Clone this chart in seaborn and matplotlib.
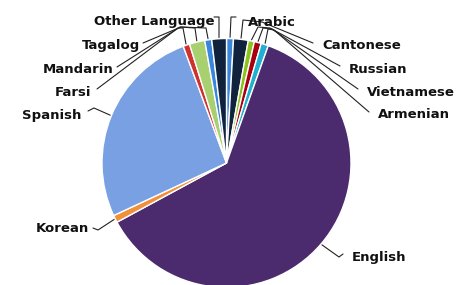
import matplotlib
matplotlib.use("Agg")
import matplotlib.pyplot as plt
import seaborn as sns
import numpy as np

# ---- data (clockwise from 12 o'clock) ----
languages = ["Arabic", "Cantonese", "Russian", "Vietnamese", "Armenian", "English",
             "Korean", "Spanish", "Farsi", "Mandarin", "Tagalog", "Other Language"]
shares = [0.9, 1.9, 0.8, 0.9, 0.95, 61.7, 0.95, 26.3, 0.85, 2.0, 0.9, 1.9]
colors = ["#3a86dc", "#10223c", "#8cc21e", "#a8000e", "#22b0d2", "#4b2a6e",
          "#f0903a", "#78a0e2", "#d0302e", "#a8d070", "#3a86dc", "#10223c"]

sns.set_theme(style="white")
plt.rcParams['font.family'] = ['DejaVu Sans']

W, H = 467, 285
CX, CY, R = 226.5, 163.0, 124.5

fig = plt.figure(figsize=(W / 100, H / 100), dpi=100)
ax = fig.add_axes([0, 0, 1, 1])

wedges, _ = ax.pie(shares, colors=colors, startangle=90, counterclock=False,
                   radius=1.0, wedgeprops=dict(edgecolor="white", linewidth=1.0))

ax.set_aspect("auto")
ax.set_xlim(-CX / R, (W - CX) / R)
ax.set_ylim(-(H - CY) / R, CY / R)
ax.axis("off")


def px(x, y):
    return ((x - CX) / R, (CY - y) / R)


# ---- label layout (pixel positions): text anchor, ha, leader path ----
layout = {
    "Arabic":        ((248, 22), "left",  [(231, 17), (236, 17)]),
    "Cantonese":     ((322, 45), "left",  [(243, 20), (262, 22), (313, 43)]),
    "Russian":       ((349, 69), "left",  [(258, 27), (270, 28), (340, 66)]),
    "Vietnamese":    ((367, 92), "left",  [(263, 28), (272, 29), (358, 89)]),
    "Armenian":      ((378, 115), "left", [(268, 29), (274, 30), (369, 112)]),
    "English":       ((352, 258), "left", [(339, 257), (343, 254)]),
    "Korean":        ((89, 229), "right", [(98, 230), (93, 228)]),
    "Spanish":       ((81, 115), "right", [(94, 108), (88, 111)]),
    "Farsi":         ((91, 92), "right",  [(183, 28), (178, 28), (97, 89)]),
    "Mandarin":      ((114, 69), "right", [(195, 28), (180, 27), (117, 67)]),
    "Tagalog":       ((140, 45), "right", [(206, 28), (181, 27), (143, 43)]),
    "Other Language": ((215, 22), "right", [(219, 17), (214, 17)]),
}

for w, lab in zip(wedges, languages):
    mid = np.deg2rad((w.theta1 + w.theta2) / 2)
    sx, sy = 1.01 * np.cos(mid), 1.01 * np.sin(mid)
    (tx, ty), ha, path = layout[lab]
    pts = [(sx, sy)] + [px(*p) for p in path]
    xs, ys = zip(*pts)
    ax.plot(xs, ys, color="#222222", lw=0.8, solid_capstyle="round", zorder=3)
    x, y = px(tx, ty)
    ax.text(x, y, lab, ha=ha, va="center", fontsize=9.5, fontweight="bold",
            color="#111111", zorder=4)

fig.savefig("out.png", dpi=100)
